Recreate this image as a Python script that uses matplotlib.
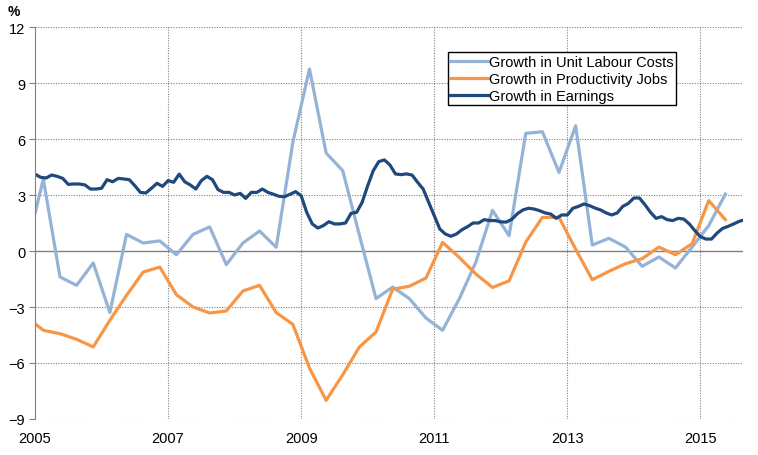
import matplotlib.pyplot as plt
import numpy as np

plt.rcParams['font.family'] = ['Liberation Sans', 'DejaVu Sans']

# quarterly series: first value at start of 2005, then mid-quarter points
q_x = [2005.0] + [2005.125 + 0.25 * k for k in range(42)]

unit_labour_costs = [2.0, 3.86, -1.39, -1.84, -0.64, -3.3, 0.89, 0.43, 0.54, -0.2,
                     0.89, 1.29, -0.73, 0.43, 1.07, 0.2, 5.82, 9.75, 5.25, 4.3,
                     0.85, -2.55, -1.93, -2.55, -3.59, -4.25, -2.57, -0.6, 2.18, 0.82,
                     6.3, 6.39, 4.21, 6.71, 0.32, 0.68, 0.21, -0.82, -0.32, -0.91,
                     0.21, 1.36, 3.05]

productivity = [-3.89, -4.25, -4.43, -4.73, -5.14, -3.71, -2.38, -1.13, -0.86, -2.34,
                -3.0, -3.32, -3.21, -2.14, -1.84, -3.3, -3.93, -6.27, -8.0, -6.63,
                -5.14, -4.34, -2.05, -1.89, -1.45, 0.46, -0.34, -1.23, -1.95, -1.6,
                0.48, 1.8, 1.8, 0.1, -1.54, -1.09, -0.68, -0.41, 0.21, -0.2,
                0.39, 2.7, 1.68]

# monthly earnings growth, Jan 2005 onwards
earnings = [4.12, 3.95, 3.91, 4.07, 4.0, 3.89, 3.57, 3.59, 3.59, 3.54, 3.32, 3.32,
            3.36, 3.82, 3.71, 3.89, 3.86, 3.82, 3.5, 3.14, 3.11, 3.36, 3.63, 3.46,
            3.77, 3.68, 4.12, 3.71, 3.54, 3.32, 3.77, 4.0, 3.82, 3.29, 3.14, 3.14,
            3.0, 3.09, 2.82, 3.14, 3.14, 3.32, 3.14, 3.04, 2.93, 2.91, 3.04, 3.18,
            2.96, 2.07, 1.45, 1.23, 1.36, 1.57, 1.45, 1.45, 1.5, 2.02, 2.07, 2.61,
            3.5, 4.3, 4.79, 4.88, 4.61, 4.13, 4.09, 4.13, 4.07, 3.68, 3.32, 2.61,
            1.89, 1.18, 0.91, 0.79, 0.91, 1.14, 1.3, 1.5, 1.5, 1.68, 1.63, 1.63,
            1.56, 1.55, 1.7, 2.0, 2.2, 2.29, 2.25, 2.16, 2.04, 1.98, 1.75, 1.93,
            1.93, 2.29, 2.39, 2.52, 2.43, 2.3, 2.2, 2.04, 1.93, 2.04, 2.39, 2.55,
            2.84, 2.84, 2.48, 2.07, 1.75, 1.84, 1.68, 1.63, 1.75, 1.71, 1.45, 1.09,
            0.77, 0.64, 0.64, 0.96, 1.21, 1.32, 1.45, 1.59, 1.68]
m_x = [2005.0 + m / 12 for m in range(len(earnings))]

year_ticks = [2005, 2007, 2009, 2011, 2013, 2015]
y_ticks = [-9, -6, -3, 0, 3, 6, 9, 12]

fig = plt.figure(figsize=(7.58, 4.56), dpi=100)
ax = fig.add_axes([35 / 758, 36 / 456, 708 / 758, 392 / 456])

ax.plot(q_x, unit_labour_costs, color='#95B3D7', lw=2.3, label='Growth in Unit Labour Costs')
ax.plot(q_x, productivity, color='#F79646', lw=2.3, label='Growth in Productivity Jobs')
ax.plot(m_x, earnings, color='#1F497D', lw=2.3, label='Growth in Earnings')

ax.set_xlim(2005, 2015.64)
ax.set_ylim(-9, 12)
ax.set_xticks(year_ticks)
ax.set_yticks(y_ticks)

for y in y_ticks:
    if y != 0:
        ax.axhline(y, color='#808080', lw=0.8, ls=(0, (1, 1.3)), zorder=0)
for x in year_ticks[1:]:
    ax.axvline(x, color='#808080', lw=0.8, ls=(0, (1, 1.3)), zorder=0)
ax.axhline(0, color='#808080', lw=1.0, zorder=1)

for s in ['top', 'right', 'bottom']:
    ax.spines[s].set_visible(False)
ax.spines['left'].set_color('#808080')
ax.tick_params(axis='y', length=4, color='#808080', labelsize=10.5, pad=3)
ax.tick_params(axis='x', length=0, labelsize=10.5, pad=9)

fig.text(8 / 758, 1 - 12 / 456, '%', fontsize=10, fontweight='bold', va='center')

leg = ax.legend(loc='upper left', bbox_to_anchor=(0.583, 0.935), fontsize=10.5,
                frameon=True, fancybox=False, edgecolor='black', framealpha=1,
                handlelength=2.6, handletextpad=0.1, labelspacing=0.22,
                borderpad=0.15, borderaxespad=0)
leg.get_frame().set_linewidth(1.0)

fig.savefig('out.png', dpi=100)
